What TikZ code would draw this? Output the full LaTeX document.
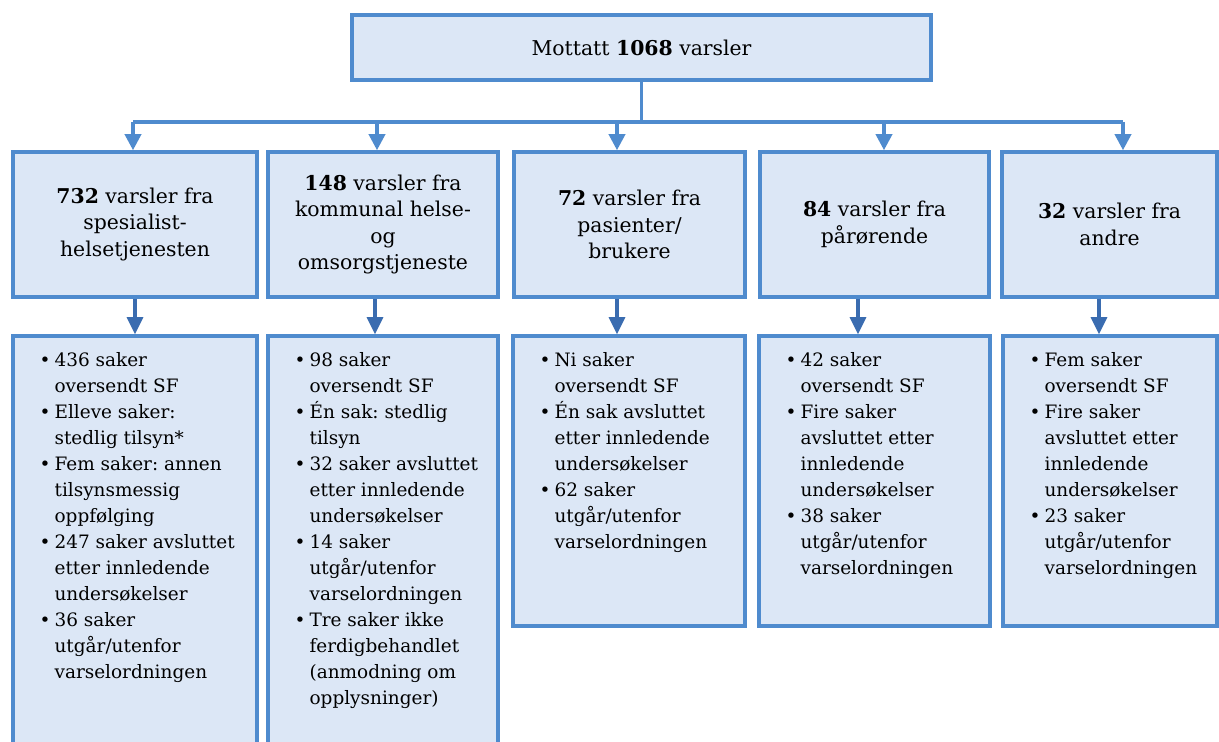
\documentclass[tikz,border=0pt]{standalone}
\usepackage{fontspec}
\setmainfont{DejaVu Serif}
\usetikzlibrary{arrows.meta}
\frenchspacing

\definecolor{boxline}{RGB}{79,139,206}
\definecolor{boxfill}{RGB}{220,231,246}
\definecolor{downline}{RGB}{58,108,176}

\newcommand{\bul}{\makebox[0.3cm][l]{\textbullet}}
\newcommand{\itemlist}[1]{\begin{tabular}[t]{@{}l@{}l@{}}#1\end{tabular}}

\tikzset{
  srcbox/.style={draw=boxline, fill=boxfill, line width=2pt, align=center,
    inner sep=0pt, minimum height=2.9cm, font=\fontsize{11.6}{15.1}\selectfont},
  listbox/.style={draw=boxline, fill=boxfill, line width=2pt, inner sep=0pt,
    minimum height=5.8cm},
  listtext/.style={anchor=base west, inner sep=0pt},
  feed/.style={boxline, line width=2pt, -{Triangle[length=0.32cm, width=0.32cm]}},
  down/.style={downline, line width=1.8pt, -{Triangle[length=0.34cm, width=0.32cm]}}
}

\begin{document}
\begin{tikzpicture}[font=\fontsize{10.5}{14.8}\selectfont]
  \useasboundingbox (0, 0) rectangle (24.38, -14.84);
  \clip (0, 0) rectangle (24.38, -14.84);

  % Total
  \node [srcbox, minimum width=11.58cm, minimum height=1.3cm] (top) at (12.83, -0.95)
    {Mottatt \textbf{1068} varsler};

  % Sources
  \node [srcbox, minimum width=4.88cm] (b1) at (2.70, -4.49)
    {\textbf{732} varsler fra\\spesialist-\\helsetjenesten};
  \node [srcbox, minimum width=4.60cm] (b2) at (7.66, -4.49)
    {\textbf{148} varsler fra\\kommunal helse-\\og\\omsorgstjeneste};
  \node [srcbox, minimum width=4.62cm] (b3) at (12.59, -4.49)
    {\textbf{72} varsler fra\\pasienter/\\brukere};
  \node [srcbox, minimum width=4.58cm] (b4) at (17.49, -4.49)
    {\textbf{84} varsler fra\\pårørende};
  \node [srcbox, minimum width=4.30cm] (b5) at (22.19, -4.49)
    {\textbf{32} varsler fra\\andre};

  % Outcomes
  \node [listbox, minimum width=4.88cm, minimum height=9.08cm] (l1) at (2.70, -11.26) {};
  \node [listbox, minimum width=4.60cm, minimum height=9.08cm] (l2) at (7.66, -11.26) {};
  \node [listbox, minimum width=4.64cm] (l3) at (12.58, -9.62) {};
  \node [listbox, minimum width=4.62cm] (l4) at (17.49, -9.62) {};
  \node [listbox, minimum width=4.28cm] (l5) at (22.20, -9.62) {};

  \node [listtext] (t1) at ([shift={(0.56, -0.64)}]l1.north west) {\itemlist{%
    \bul & 436 saker\\ & oversendt SF\\
    \bul & Elleve saker:\\ & stedlig tilsyn*\\
    \bul & Fem saker: annen\\ & tilsynsmessig\\ & oppfølging\\
    \bul & 247 saker avsluttet\\ & etter innledende\\ & undersøkelser\\
    \bul & 36 saker\\ & utgår/utenfor\\ & varselordningen}};
  \node [listtext] (t2) at ([shift={(0.56, -0.64)}]l2.north west) {\itemlist{%
    \bul & 98 saker\\ & oversendt SF\\
    \bul & Én sak: stedlig\\ & tilsyn\\
    \bul & 32 saker avsluttet\\ & etter innledende\\ & undersøkelser\\
    \bul & 14 saker\\ & utgår/utenfor\\ & varselordningen\\
    \bul & Tre saker ikke\\ & ferdigbehandlet\\ & (anmodning om\\ & opplysninger)}};
  \node [listtext] (t3) at ([shift={(0.56, -0.64)}]l3.north west) {\itemlist{%
    \bul & Ni saker\\ & oversendt SF\\
    \bul & Én sak avsluttet\\ & etter innledende\\ & undersøkelser\\
    \bul & 62 saker\\ & utgår/utenfor\\ & varselordningen}};
  \node [listtext] (t4) at ([shift={(0.56, -0.64)}]l4.north west) {\itemlist{%
    \bul & 42 saker\\ & oversendt SF\\
    \bul & Fire saker\\ & avsluttet etter\\ & innledende\\ & undersøkelser\\
    \bul & 38 saker\\ & utgår/utenfor\\ & varselordningen}};
  \node [listtext] (t5) at ([shift={(0.56, -0.64)}]l5.north west) {\itemlist{%
    \bul & Fem saker\\ & oversendt SF\\
    \bul & Fire saker\\ & avsluttet etter\\ & innledende\\ & undersøkelser\\
    \bul & 23 saker\\ & utgår/utenfor\\ & varselordningen}};

  % Bus from the total
  \foreach \i/\x in {1/2.66, 2/7.54, 3/12.34, 4/17.68, 5/22.46}
    \coordinate (j\i) at (\x, -2.44);
  \draw [boxline, line width=2pt] (top.south) -- (top.south |- j1);
  \draw [boxline, line width=2pt, line join=round] (j1) -- (j5);
  \foreach \i in {1, ..., 5}
    \draw [feed] (j\i) -- (j\i |- b\i.north);

  % Down to the outcomes
  \foreach \i/\x in {1/2.70, 2/7.50, 3/12.34, 4/17.16, 5/21.98} {
    \coordinate (k\i) at (\x, 0);
    \draw [down] (b\i.south -| k\i) -- (l\i.north -| k\i);
  }
\end{tikzpicture}
\end{document}
